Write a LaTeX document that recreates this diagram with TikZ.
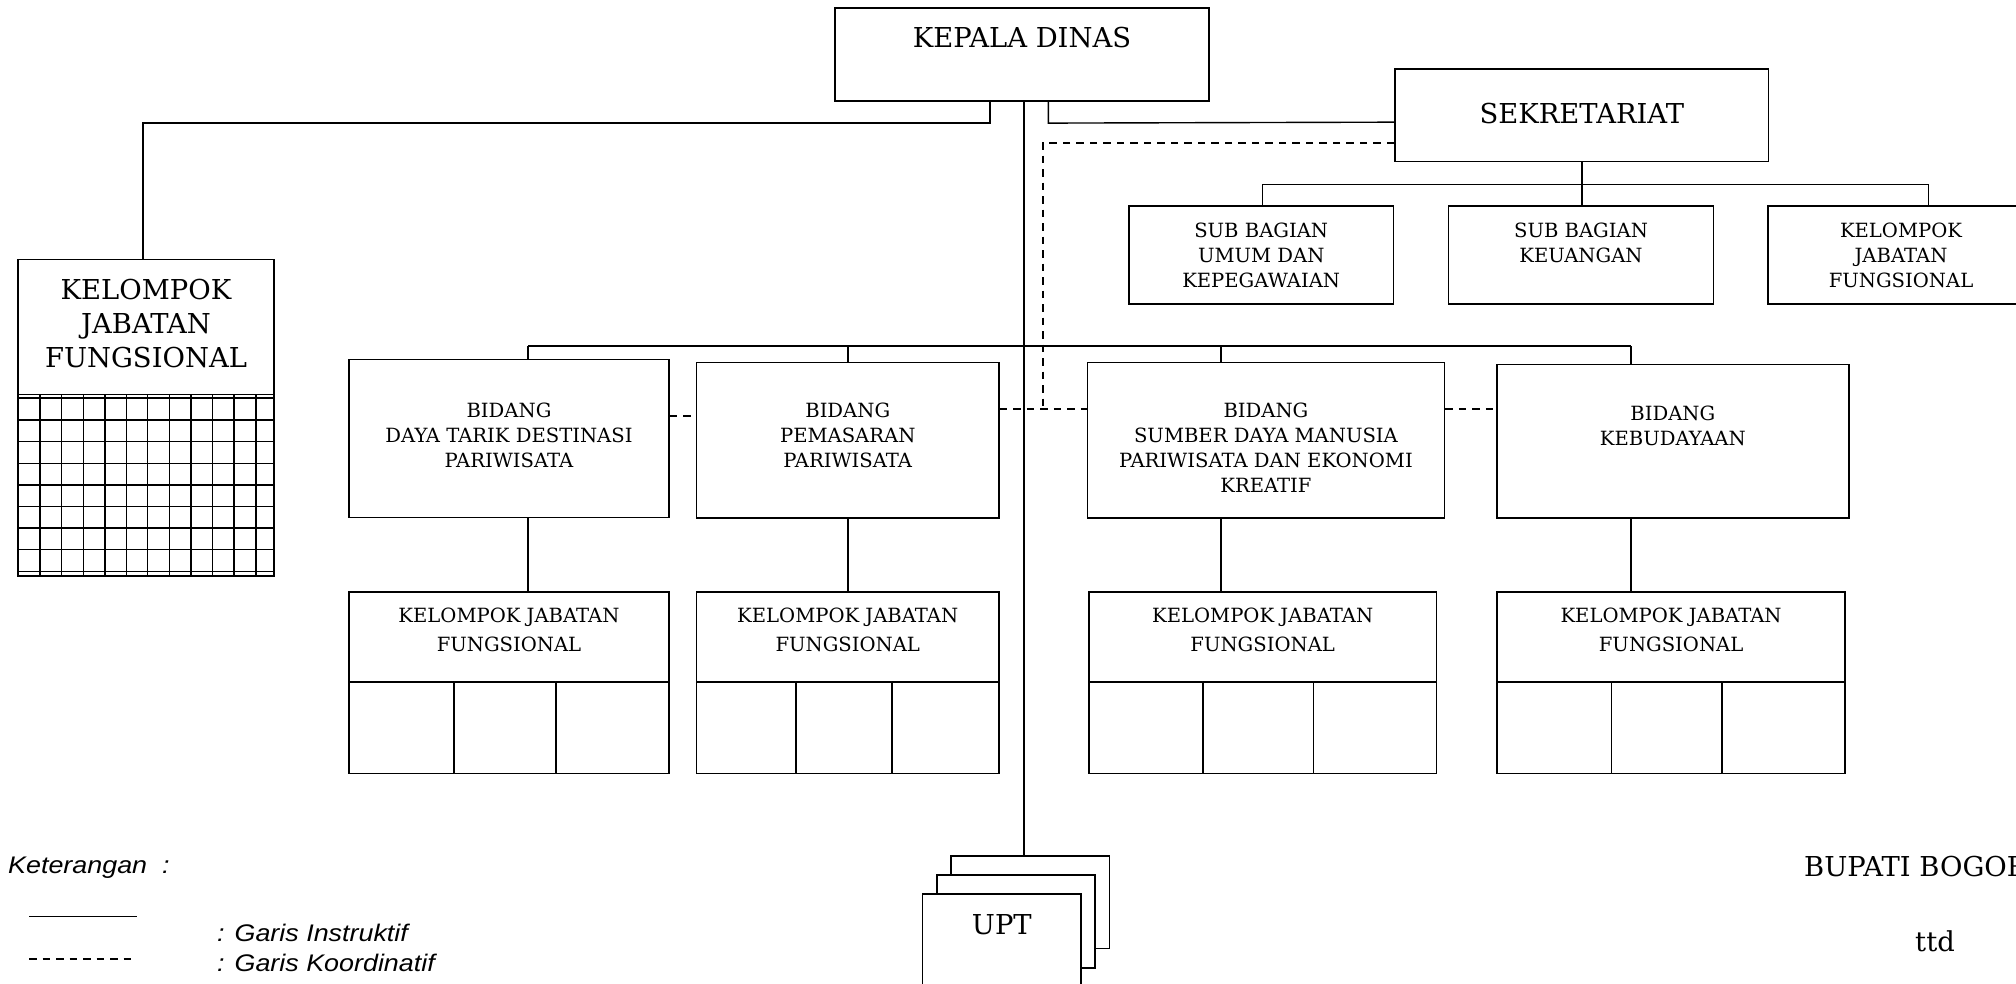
\documentclass[tikz,border=0pt]{standalone}
\usepackage{fontspec}
\setmainfont{DejaVu Serif}
\newfontfamily\legfont{Liberation Sans}[FakeStretch=1.12]
\tikzset{
  box/.style={draw, line width=1.6pt, fill=white, inner sep=0pt, rectangle},
  con/.style={line width=1.4pt},
  coord/.style={line width=1.7pt, dash pattern=on 7.5pt off 6pt},
  gridline/.style={line width=1.5pt},
  bigtxt/.style={font=\fontsize{27.4}{34}\selectfont, inner sep=0pt, align=center},
  smalltxt/.style={font=\fontsize{19.6}{25}\selectfont, inner sep=0pt, align=center},
  kjftxt/.style={font=\fontsize{19.6}{28.5}\selectfont, inner sep=0pt, align=center},
  legtxt/.style={font=\legfont\itshape\fontsize{24}{28}\selectfont, inner sep=0pt},
}
\begin{document}
\begin{tikzpicture}[x=1pt,y=-1pt]
\useasboundingbox (0,0) rectangle (2016,983);
\clip (0,0) rectangle (2016,983);

% ---------- top level ----------
\node[box,minimum width=374pt,minimum height=92.7pt] (KD) at (1022,54.35) {};
\node[bigtxt,anchor=north] (tKD) at (1022,26.7) {KEPALA DINAS};

\node[box,minimum width=373.6pt,minimum height=92.3pt] (SEK) at (1581.8,115.15) {};
\node[bigtxt,anchor=north] (tSEK) at (1581.8,103.3) {SEKRETARIAT};

% ---------- sekretariat children ----------
\node[box,minimum width=264.4pt,minimum height=98pt] (SB1) at (1261.2,255) {};
\node[smalltxt,anchor=north] (tSB1) at (1261.2,222.7) {SUB BAGIAN\\UMUM DAN\\KEPEGAWAIAN};
\node[box,minimum width=265pt,minimum height=98pt] (SB2) at (1581,255) {};
\node[smalltxt,anchor=north] (tSB2) at (1581,222.7) {SUB BAGIAN\\KEUANGAN};
\node[box,minimum width=266pt,minimum height=98pt] (SB3) at (1901,255) {};
\node[smalltxt,anchor=north] (tSB3) at (1901,222.7) {KELOMPOK\\JABATAN\\FUNGSIONAL};

% ---------- big KJF on the left ----------
\node[box,minimum width=255.7pt,minimum height=316.1pt] (KJF) at (145.85,417.65) {};
\node[bigtxt,anchor=north] (tKJF) at (146,279) {KELOMPOK\\JABATAN\\FUNGSIONAL};
\draw[box] (18,394.3) -- (273.7,394.3);
\foreach \x in {40,61.5,83.3,105,126.7,147.5,169.3,191,212.7,234,256}
  \draw[gridline] (\x,394.3) -- (\x,575.7);
\foreach \y in {398,420,441.7,463.3,485,506.7,528,549.3,571.5}
  \draw[gridline] (18,\y) -- (273.7,\y);

% ---------- bidang ----------
\node[box,minimum width=320pt,minimum height=157.9pt] (DTD) at (509,438.55) {};
\node[smalltxt,anchor=north] (tDTD) at (509,402.7) {BIDANG\\DAYA TARIK DESTINASI\\PARIWISATA};
\node[box,minimum width=302.5pt,minimum height=155.4pt] (PEM) at (847.75,440) {};
\node[smalltxt,anchor=north] (tPEM) at (847.75,402.7) {BIDANG\\PEMASARAN\\PARIWISATA};
\node[box,minimum width=357.1pt,minimum height=155.4pt] (SDM) at (1265.95,440) {};
\node[smalltxt,anchor=north] (tSDM) at (1265.95,402.7) {BIDANG\\SUMBER DAYA MANUSIA\\PARIWISATA DAN EKONOMI\\KREATIF};
\node[box,minimum width=351.7pt,minimum height=153.4pt] (KEB) at (1672.85,441) {};
\node[smalltxt,anchor=north] (tKEB) at (1672.85,405.7) {BIDANG\\KEBUDAYAAN};

% ---------- kelompok jabatan fungsional rows ----------
\node[box,minimum width=320pt,minimum height=181.6pt] (K1) at (509,682.5) {};
\node[kjftxt,anchor=north] (tK1) at (509,608.2) {KELOMPOK JABATAN\\FUNGSIONAL};
\draw[box] (349,681.7) -- (669,681.7);
\draw[box] (454,681.7) -- (454,773.3);
\draw[box] (555.8,681.7) -- (555.8,773.3);

\node[box,minimum width=302.5pt,minimum height=181.6pt] (K2) at (847.75,682.5) {};
\node[kjftxt,anchor=north] (tK2) at (847.75,608.2) {KELOMPOK JABATAN\\FUNGSIONAL};
\draw[box] (696.5,681.7) -- (999,681.7);
\draw[box] (795.8,681.7) -- (795.8,773.3);
\draw[box] (891.7,681.7) -- (891.7,773.3);

\node[box,minimum width=347.4pt,minimum height=181.6pt] (K3) at (1262.7,682.5) {};
\node[kjftxt,anchor=north] (tK3) at (1262.7,608.2) {KELOMPOK JABATAN\\FUNGSIONAL};
\draw[box] (1089,681.7) -- (1436.4,681.7);
\draw[box] (1202.8,681.7) -- (1202.8,773.3);
\draw[box] (1313.6,681.7) -- (1313.6,773.3);

\node[box,minimum width=348.2pt,minimum height=181.6pt] (K4) at (1671.1,682.5) {};
\node[kjftxt,anchor=north] (tK4) at (1671.1,608.2) {KELOMPOK JABATAN\\FUNGSIONAL};
\draw[box] (1497,681.7) -- (1845.2,681.7);
\draw[box] (1611.4,681.7) -- (1611.4,773.3);
\draw[box] (1722.2,681.7) -- (1722.2,773.3);

% ---------- instruktif connectors ----------
\draw[con] ([xshift=-32pt]KD.south) -- ++(0,21.6) -| ([xshift=-3pt]KJF.north);
\draw[con] ([xshift=26.3pt]KD.south) -- ++(0,21.6) -- ([yshift=-7pt]SEK.west);

\coordinate (sbL) at (1262.5,184.3);
\coordinate (sbR) at (1928.7,184.3);
\draw[con] (SEK.south) -- (SEK.south |- SB2.north);
\draw[con] (sbL) -- (sbR);
\draw[con] (sbL) -- (sbL |- SB1.north);
\draw[con] (sbR) -- (sbR |- SB3.north);

\coordinate (b1) at (528,346);
\coordinate (b2) at (848,346);
\coordinate (b3) at (1221,346);
\coordinate (b4) at (1631,346);
\draw[con] (b1) -- (b4);
\draw[con] (b1) -- (b1 |- DTD.north);
\draw[con] (b2) -- (b2 |- PEM.north);
\draw[con] (b3) -- (b3 |- SDM.north);
\draw[con] (b4) -- (b4 |- KEB.north);
\draw[con] (b1 |- DTD.south) -- (b1 |- K1.north);
\draw[con] (b2 |- PEM.south) -- (b2 |- K2.north);
\draw[con] (b3 |- SDM.south) -- (b3 |- K3.north);
\draw[con] (b4 |- KEB.south) -- (b4 |- K4.north);

% ---------- koordinatif connectors ----------
\coordinate (s1) at ([yshift=-27.5pt]SEK.west);
\coordinate (dv) at (1042.7,409.3);
\draw[coord] (s1) -| (dv);
\coordinate (d1) at ([yshift=22.5pt]DTD.east);
\draw[coord] (d1) -- (PEM.west |- d1);
\coordinate (d2) at ([yshift=30.7pt]PEM.east);
\draw[coord] (d2) -- (SDM.west |- d2);
\coordinate (d3) at ([yshift=30.7pt]SDM.east);
\draw[coord] (d3) -- (KEB.west |- d3);

% ---------- UPT ----------
\node[box,minimum width=158.3pt,minimum height=92.6pt] (U3) at (1030.15,902) {};
\coordinate (c0) at ([xshift=2pt]KD.south);
\draw[con] (c0) -- (c0 |- U3.north);
\node[box,minimum width=158.3pt,minimum height=92.7pt] (U2) at (1015.85,921.35) {};
\node[box,minimum width=158.4pt,minimum height=116pt] (U1) at (1001.5,952) {};
\node[bigtxt,anchor=north] (tUPT) at (1001.8,914.3) {UPT};

% ---------- legend ----------
\node[legtxt,anchor=base west] (ket) at (8,873.3) {Keterangan\ \ :};
\coordinate (l1a) at (29,916.7);
\coordinate (l1b) at (137,916.7);
\draw[con] (l1a) -- (l1b);
\coordinate (l2a) at (29,959.3);
\coordinate (l2b) at (137,959.3);
\draw[coord] (l2a) -- (l2b);
\node[legtxt,anchor=base west] (gi) at (217,941.7) {: Garis Instruktif};
\node[legtxt,anchor=base west] (gk) at (217,971.7) {: Garis Koordinatif};

% ---------- signature ----------
\node[bigtxt,anchor=base west] (bup) at (1804,876) {BUPATI BOGOR};
\node[bigtxt,anchor=base] (ttd) at (1935,951.7) {ttd};
\end{tikzpicture}
\end{document}
